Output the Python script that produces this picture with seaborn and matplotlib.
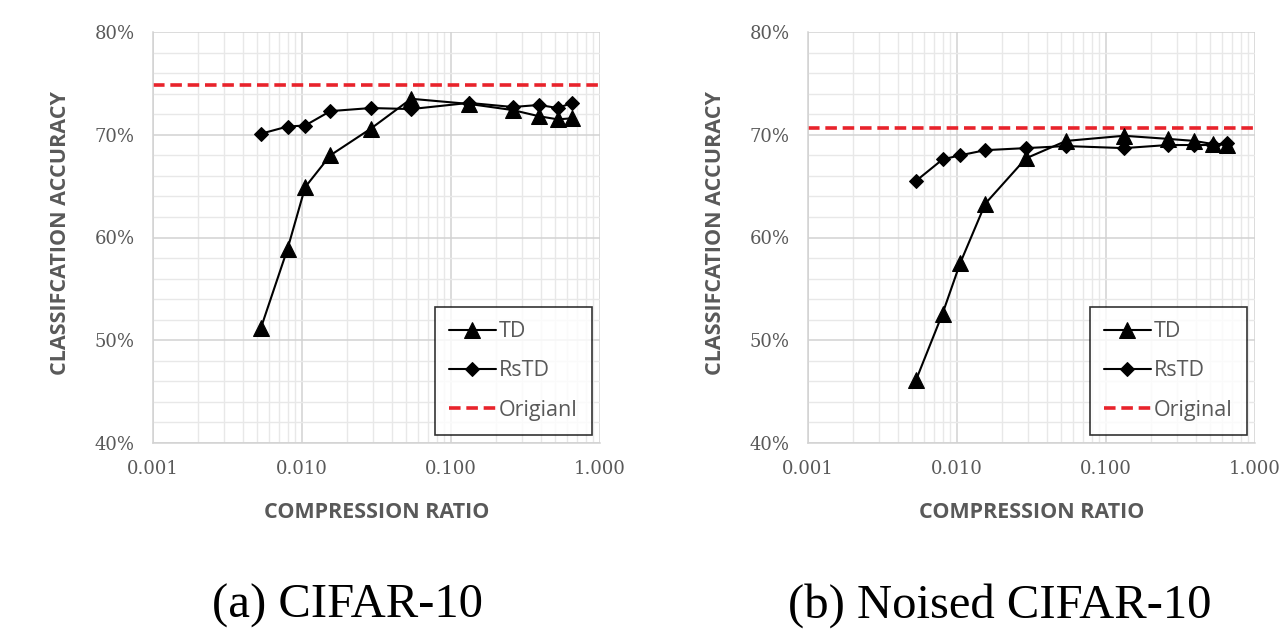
import numpy as np
import pandas as pd
import matplotlib
matplotlib.use("Agg")
import matplotlib.pyplot as plt
import matplotlib.ticker as mticker
import seaborn as sns

# ---- data ----
ratios = [0.0053, 0.0080, 0.0105, 0.0155, 0.029, 0.054, 0.132, 0.26, 0.39, 0.52, 0.65]

td_cifar = [51.2, 58.9, 64.9, 68.0, 70.6, 73.5, 73.0, 72.4, 71.8, 71.5, 71.6]
rstd_cifar = [70.1, 70.8, 70.9, 72.3, 72.6, 72.5, 73.1, 72.7, 72.9, 72.6, 73.1]
orig_cifar = 74.8

td_noised = [46.1, 52.6, 57.5, 63.3, 67.7, 69.4, 69.9, 69.6, 69.4, 69.1, 69.0]
rstd_noised = [65.5, 67.6, 68.0, 68.5, 68.7, 68.9, 68.7, 69.0, 69.0, 69.0, 69.2]
orig_noised = 70.7

captions = ["(a) CIFAR-10", "(b) Noised CIFAR-10"]
orig_labels = ["Origianl", "Original"]
xticks = [0.001, 0.01, 0.1, 1.0]
xticklabels = ["0.001", "0.010", "0.100", "1.000"]
yticks = [40, 50, 60, 70, 80]

sns.set_style("white")
plt.rcParams['font.family'] = ['DejaVu Sans']

fig = plt.figure(figsize=(12.79, 6.37), dpi=100)
W, H = 1279, 637
axes_px = [(153, 32, 600, 443), (808, 32, 1255, 443)]
panels = [(td_cifar, rstd_cifar, orig_cifar), (td_noised, rstd_noised, orig_noised)]
caption_cx = [347, 1000]
GRAY = "#595959"

for i, ((x0, y0, x1, y1), (td, rs, orig)) in enumerate(zip(axes_px, panels)):
    ax = fig.add_axes([x0 / W, 1 - y1 / H, (x1 - x0) / W, (y1 - y0) / H])
    df = pd.DataFrame({"ratio": ratios * 2,
                       "acc": td + rs,
                       "method": ["TD"] * len(ratios) + ["RsTD"] * len(ratios)})
    ax.set_xscale("log")
    sns.lineplot(data=df[df.method == "TD"], x="ratio", y="acc", ax=ax,
                 color="black", lw=1.5, marker="^", markersize=11,
                 markeredgecolor="black", label="TD", estimator=None, sort=True)
    sns.lineplot(data=df[df.method == "RsTD"], x="ratio", y="acc", ax=ax,
                 color="black", lw=1.5, marker="D", markersize=7.5,
                 markeredgecolor="black", label="RsTD", estimator=None, sort=True)
    ax.axhline(orig, color="#e8232b", lw=2.6, ls=(0, (3.2, 1.6)), label=orig_labels[i], zorder=1.5)

    ax.set_xlim(0.001, 1.0)
    ax.set_ylim(40, 80)
    ax.set_xticks(xticks)
    ax.set_xticklabels(xticklabels)
    ax.xaxis.set_minor_locator(mticker.LogLocator(base=10, subs=np.arange(2, 10)))
    ax.xaxis.set_minor_formatter(mticker.NullFormatter())
    ax.set_yticks(yticks)
    ax.yaxis.set_major_formatter(mticker.FuncFormatter(lambda v, p: f"{v:.0f}%"))
    ax.yaxis.set_minor_locator(mticker.MultipleLocator(2))

    ax.grid(True, which="major", color="#d2d2d2", lw=1.1)
    ax.grid(True, which="minor", color="#e8e8e8", lw=1.0)
    ax.set_axisbelow(True)
    for s in ["top", "right"]:
        ax.spines[s].set_visible(False)
    for s in ["left", "bottom"]:
        ax.spines[s].set_color("#d2d2d2")
        ax.spines[s].set_linewidth(1.1)

    ax.tick_params(axis="y", which="major", length=6, color="#c8c8c8", direction="out",
                   labelsize=13, labelcolor=GRAY, pad=7)
    ax.tick_params(axis="y", which="minor", length=0)
    ax.tick_params(axis="x", which="both", length=5, color="#c8c8c8", direction="inout",
                   labelsize=13, labelcolor=GRAY, pad=10)
    for lab in ax.get_xticklabels() + ax.get_yticklabels():
        lab.set_family("DejaVu Serif")

    ax.set_xlabel("COMPRESSION RATIO", fontsize=15.5, fontweight="bold", color=GRAY,
                  family="Open Sans", labelpad=17)
    ax.set_ylabel("CLASSIFCATION ACCURACY", fontsize=15.5, fontweight="bold", color=GRAY,
                  family="Open Sans")
    ax.yaxis.set_label_coords(-0.183, 0.51)

    leg = ax.legend(loc="lower right", bbox_to_anchor=(0.982, 0.02), borderaxespad=0,
                    frameon=True, fancybox=False, edgecolor="black", handlelength=2.2,
                    handletextpad=0.15, labelspacing=0.85, borderpad=0.65,
                    prop={"family": "Open Sans", "size": 15.5})
    leg.get_frame().set_linewidth(1.2)
    for t in leg.get_texts():
        t.set_color(GRAY)

    fig.text(caption_cx[i] / W, 1 - 606 / H, captions[i],
             ha="center", va="center", fontsize=35, family="Liberation Serif", color="black")

fig.savefig("out.png", dpi=100)
